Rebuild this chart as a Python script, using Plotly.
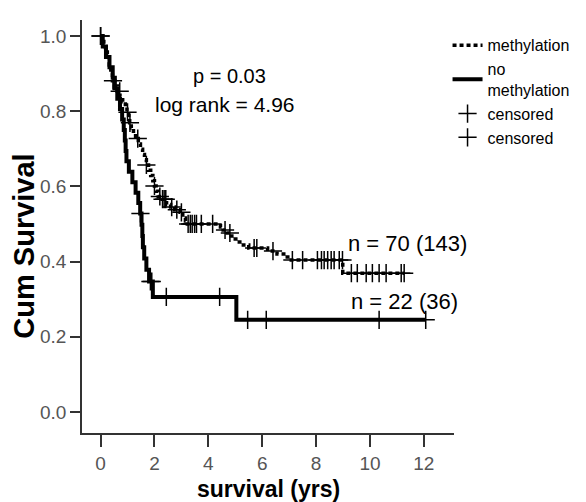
import numpy as np
import plotly.graph_objects as go

# ---------------- data ----------------
# methylation group: event times (yrs) and survival after each event
meth_time = [0.00, 0.06, 0.12, 0.18, 0.25, 0.32, 0.38, 0.44, 0.52, 0.62, 0.72, 0.82,
             0.92, 0.98, 1.04, 1.08, 1.14, 1.22, 1.30, 1.40, 1.48, 1.56, 1.63, 1.70,
             1.78, 1.86, 1.94, 2.00, 2.06, 2.14, 2.28, 2.45, 2.60, 2.75, 2.95, 3.05,
             3.15, 3.22, 4.45, 4.55, 4.70, 4.85, 5.00, 5.15, 5.30, 5.50, 6.20, 6.55,
             6.80, 6.95, 8.99]
meth_surv = [1.000, 0.993, 0.979, 0.965, 0.944, 0.923, 0.902, 0.881, 0.867, 0.853, 0.839, 0.825,
             0.811, 0.797, 0.783, 0.769, 0.755, 0.741, 0.727, 0.713, 0.699, 0.685, 0.671, 0.657,
             0.643, 0.629, 0.615, 0.601, 0.587, 0.573, 0.566, 0.552, 0.545, 0.538, 0.531, 0.516,
             0.508, 0.500, 0.492, 0.484, 0.476, 0.468, 0.460, 0.452, 0.444, 0.436, 0.428, 0.420,
             0.412, 0.404, 0.369]
meth_cens = [0.00, 0.46, 0.71, 1.00, 1.09, 1.38, 1.70, 2.00, 2.20, 2.30, 2.36, 2.42, 2.64,
             2.83, 3.00, 3.25, 3.33, 3.40, 3.49, 3.56, 3.74, 4.16, 4.62, 4.80, 5.70, 5.80,
             6.40, 7.12, 7.50, 8.05, 8.20, 8.30, 8.43, 8.56, 8.67, 8.86, 8.98, 9.31, 9.53,
             9.86, 10.09, 10.34, 10.60, 11.16, 11.27]

# no methylation group
nometh_time = [0.00, 0.08, 0.20, 0.33, 0.45, 0.53, 0.62, 0.72, 0.80, 0.86, 0.90, 0.93,
               0.96, 1.05, 1.18, 1.30, 1.40, 1.47, 1.52, 1.55, 1.57, 1.62, 1.70, 1.80,
               1.94, 5.04]
nometh_surv = [1.000, 0.972, 0.944, 0.917, 0.889, 0.861, 0.833, 0.806, 0.778, 0.750, 0.722, 0.694,
               0.667, 0.639, 0.611, 0.583, 0.556, 0.528, 0.498, 0.468, 0.438, 0.408, 0.378, 0.347,
               0.306, 0.245]
nometh_cens = [0.00, 1.48, 1.85, 1.90, 2.44, 4.42, 5.46, 6.15, 10.34, 12.07]

x_ticks = [0, 2, 4, 6, 8, 10, 12]
y_ticks = [0.0, 0.2, 0.4, 0.6, 0.8, 1.0]

FONT = "Liberation Sans, Arial, sans-serif"


def level_at(times, surv, t):
    idx = np.searchsorted(np.asarray(times), t, side="right") - 1
    return float(np.asarray(surv)[max(idx, 0)])


def curve(times, surv, cens):
    xs = list(times)
    ys = list(surv)
    end = max(cens)
    if end > xs[-1]:
        xs.append(end)
        ys.append(ys[-1])
    cy = [level_at(times, surv, c) for c in cens]
    return xs, ys, cy


mx, my, mcy = curve(meth_time, meth_surv, meth_cens)
nx, ny, ncy = curve(nometh_time, nometh_surv, nometh_cens)

fig = go.Figure()

fig.add_trace(go.Scatter(x=nx, y=ny, mode="lines", line_shape="hv",
                         line=dict(color="black", width=4), showlegend=False,
                         hoverinfo="skip"))
fig.add_trace(go.Scatter(x=mx, y=my, mode="lines", line_shape="hv",
                         line=dict(color="black", width=3.5, dash="4px,3px"),
                         showlegend=False, hoverinfo="skip"))
cross = dict(symbol="cross-thin", size=13, color="black",
             line=dict(color="black", width=1.5))
fig.add_trace(go.Scatter(x=meth_cens, y=mcy, mode="markers", marker=cross,
                         showlegend=False, hoverinfo="skip"))
fig.add_trace(go.Scatter(x=nometh_cens, y=ncy, mode="markers", marker=cross,
                         showlegend=False, hoverinfo="skip"))

# legend entries
fig.add_trace(go.Scatter(x=[None], y=[None], mode="lines", name="methylation",
                         line=dict(color="black", width=3.5, dash="4px,3px")))
fig.add_trace(go.Scatter(x=[None], y=[None], mode="lines", name="no<br>methylation",
                         line=dict(color="black", width=4)))
fig.add_trace(go.Scatter(x=[None], y=[None], mode="markers", name="censored",
                         marker=cross))
fig.add_trace(go.Scatter(x=[None], y=[None], mode="markers", name="censored",
                         marker=cross))

axis_common = dict(showgrid=False, zeroline=False, showline=True, linecolor="#333",
                   linewidth=1.5, ticks="outside", tickcolor="#333", tickwidth=1.5,
                   tickfont=dict(family=FONT, size=19, color="#555"))

fig.update_xaxes(range=[-0.69, 13.12], tickvals=x_ticks, ticklen=12, **axis_common)
fig.update_yaxes(range=[-0.056, 1.0425], tickvals=y_ticks, tickformat=".1f",
                 ticklen=10, **axis_common)

fig.add_annotation(x=4.79, y=0.894, text="p = 0.03", showarrow=False,
                   font=dict(family=FONT, size=20, color="black"))
fig.add_annotation(x=4.60, y=0.819, text="log rank = 4.96", showarrow=False,
                   font=dict(family=FONT, size=21, color="black"))
fig.add_annotation(x=11.38, y=0.449, text="n = 70 (143)", showarrow=False,
                   font=dict(family=FONT, size=22, color="black"))
fig.add_annotation(x=11.27, y=0.293, text="n = 22 (36)", showarrow=False,
                   font=dict(family=FONT, size=22, color="black"))

fig.add_annotation(xref="paper", yref="paper", x=-0.155, y=0.452,
                   xanchor="center", yanchor="middle",
                   text="Cum Survival", textangle=-90, showarrow=False,
                   font=dict(family=FONT, size=29, color="black", weight="bold"))
fig.add_annotation(xref="paper", yref="paper", x=0.5, y=-0.135,
                   xanchor="center", yanchor="middle",
                   text="survival (yrs)", showarrow=False,
                   font=dict(family=FONT, size=23, color="black", weight="bold"))

# page body adds an 8px offset, so the figure is drawn 8px smaller with trimmed margins
fig.update_layout(
    width=578, height=494,
    margin=dict(l=74, r=131, t=12, b=69),
    plot_bgcolor="white", paper_bgcolor="white",
    font=dict(family=FONT, color="black"),
    legend=dict(x=0.98, y=0.98, xanchor="left", yanchor="top",
                font=dict(family=FONT, size=16, color="black"),
                bgcolor="rgba(0,0,0,0)", itemwidth=30, tracegroupgap=0),
    hovermode=False,
)

fig.write_html("out.html")
